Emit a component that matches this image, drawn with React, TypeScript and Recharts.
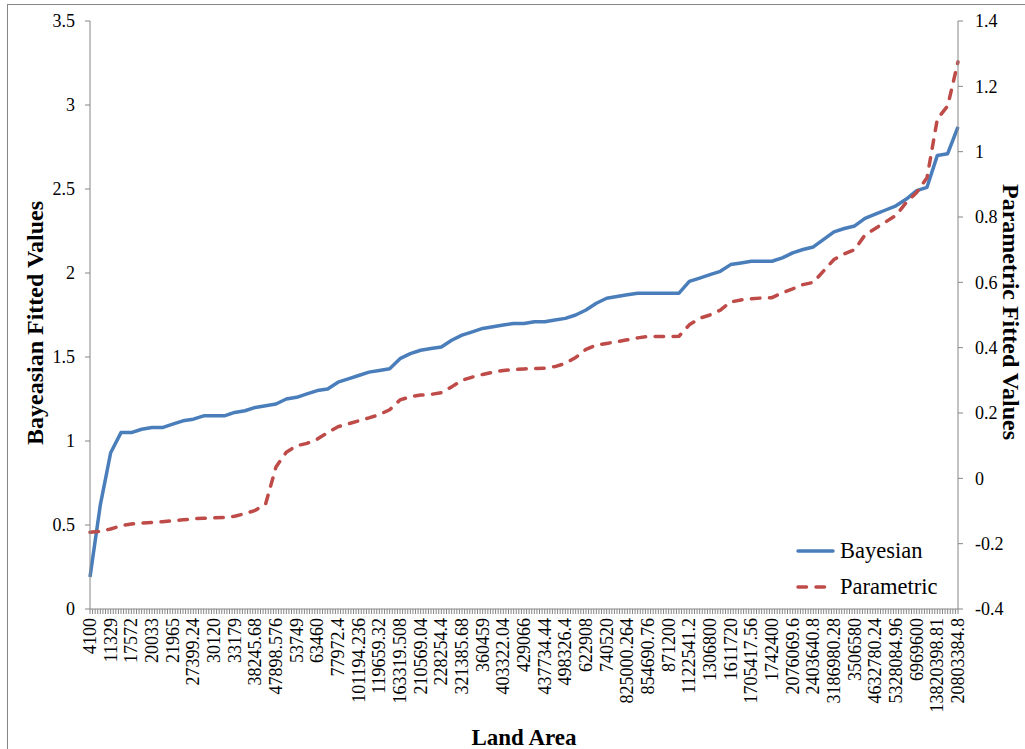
import React from 'react';
import { LineChart, Line, XAxis, YAxis, Legend } from 'recharts';

// Land area categories shown on the horizontal axis (one label every two points)
const landAreaLabels = [
  '4100', '11329', '17572', '20033', '21965', '27399.24', '30120', '33179',
  '38245.68', '47898.576', '53749', '63460', '77972.4', '101194.236',
  '119659.32', '163319.508', '210569.04', '228254.4', '321385.68', '360459',
  '403322.04', '429066', '437734.44', '498326.4', '622908', '740520',
  '825000.264', '854690.76', '871200', '1122541.2', '1306800', '1611720',
  '1705417.56', '1742400', '2076069.6', '2403640.8', '3186980.28', '3506580',
  '4632780.24', '5328084.96', '6969600', '13820398.81', '20803384.8',
];
const pointsPerLabel = 2;

// Bayesian fitted values (left axis)
const bayesian = [
  0.19, 0.62, 0.93, 1.05, 1.05, 1.07, 1.08, 1.08, 1.1, 1.12,
  1.13, 1.15, 1.15, 1.15, 1.17, 1.18, 1.2, 1.21, 1.22, 1.25,
  1.26, 1.28, 1.3, 1.31, 1.35, 1.37, 1.39, 1.41, 1.42, 1.43,
  1.49, 1.52, 1.54, 1.55, 1.56, 1.6, 1.63, 1.65, 1.67, 1.68,
  1.69, 1.7, 1.7, 1.71, 1.71, 1.72, 1.73, 1.75, 1.78, 1.82,
  1.85, 1.86, 1.87, 1.88, 1.88, 1.88, 1.88, 1.88, 1.95, 1.97,
  1.99, 2.01, 2.05, 2.06, 2.07, 2.07, 2.07, 2.09, 2.12, 2.14,
  2.155, 2.2, 2.245, 2.265, 2.28, 2.325, 2.35, 2.375, 2.4, 2.44,
  2.49, 2.51, 2.7, 2.71, 2.87,
];

// Parametric fitted values (right axis)
const parametric = [
  -0.165, -0.162, -0.155, -0.145, -0.14, -0.137, -0.135, -0.133, -0.13, -0.127,
  -0.124, -0.122, -0.121, -0.12, -0.116, -0.108, -0.098, -0.078, 0.035, 0.08,
  0.1, 0.107, 0.12, 0.14, 0.158, 0.167, 0.176, 0.185, 0.195, 0.21,
  0.24, 0.25, 0.255, 0.257, 0.262, 0.28, 0.3, 0.31, 0.318, 0.325,
  0.33, 0.333, 0.335, 0.336, 0.337, 0.342, 0.352, 0.37, 0.395, 0.408,
  0.413, 0.418, 0.424, 0.43, 0.434, 0.434, 0.434, 0.435, 0.47, 0.49,
  0.5, 0.515, 0.54, 0.546, 0.55, 0.552, 0.553, 0.568, 0.58, 0.593,
  0.6, 0.635, 0.67, 0.687, 0.7, 0.745, 0.765, 0.785, 0.805, 0.845,
  0.875, 0.92, 1.1, 1.14, 1.275,
];

const leftTicks = [0, 0.5, 1, 1.5, 2, 2.5, 3, 3.5];
const rightTicks = [-0.4, -0.2, 0, 0.2, 0.4, 0.6, 0.8, 1, 1.2, 1.4];

// minor tick marks along the category axis (4 per data point)
const minorPerPoint = 4;
const lastIndex = bayesian.length - 1;
const xTicks = Array.from({ length: lastIndex * minorPerPoint + 1 }, (_, k) => k / minorPerPoint);

const data = bayesian.map((b, i) => ({ idx: i, bayesian: b, parametric: parametric[i] }));

const FONT = '"Liberation Serif", "Times New Roman", serif';
const BLUE = '#4A7EBB';
const RED = '#BE4B48';
const AXIS = '#868686';

const XTick = (props: any) => {
  const { x, y, payload } = props;
  const k = Math.round(payload.value * minorPerPoint);
  const step = minorPerPoint * pointsPerLabel;
  if (k % step !== 0) return <g />;
  const label = landAreaLabels[k / step];
  return (
    <text
      x={x}
      y={y}
      transform={`rotate(-90 ${x} ${y})`}
      textAnchor="end"
      dominantBaseline="central"
      fontFamily={FONT}
      fontSize={18}
      fill="#000"
    >
      {label}
    </text>
  );
};

const legendItems = [
  { name: 'Bayesian', color: BLUE, dash: undefined },
  { name: 'Parametric', color: RED, dash: '8.5 9.5' },
];

const renderLegend = () => (
  <div style={{ fontFamily: FONT, fontSize: 22.5, color: '#000', lineHeight: 1 }}>
    {legendItems.map((s) => (
      <div key={s.name} style={{ display: 'flex', alignItems: 'center', height: 36 }}>
        <svg width={44} height={10} style={{ marginRight: 1 }}>
          <line
            x1={3}
            y1={5}
            x2={38}
            y2={5}
            stroke={s.color}
            strokeWidth={3.5}
            strokeDasharray={s.dash}
            strokeLinecap="round"
          />
        </svg>
        <span>{s.name}</span>
      </div>
    ))}
  </div>
);

export default function App() {
  return (
    <div
      style={{
        position: 'absolute',
        left: 0,
        top: 0,
        width: 1025,
        height: 749,
        background: '#fff',
        overflow: 'hidden',
      }}
    >
      <div
        style={{
          position: 'absolute',
          left: 7,
          top: 4,
          width: 1100,
          height: 900,
          border: `1px solid ${AXIS}`,
        }}
      />
      <div style={{ position: 'absolute', left: 0, top: 0 }}>
        <LineChart width={1025} height={749} data={data} margin={{ top: 21, right: 0, bottom: 0, left: 0 }}>
          <XAxis
            dataKey="idx"
            type="number"
            domain={[0, lastIndex]}
            ticks={xTicks}
            interval={0}
            tick={XTick}
            tickSize={5}
            tickMargin={4}
            height={140}
            stroke={AXIS}
            tickLine={{ stroke: AXIS }}
          />
          <YAxis
            yAxisId="left"
            domain={[0, 3.5]}
            ticks={leftTicks}
            interval={0}
            width={90}
            tickSize={5}
            tickMargin={10}
            stroke={AXIS}
            tick={{ fill: '#000', fontSize: 18, fontFamily: FONT }}
          />
          <YAxis
            yAxisId="right"
            orientation="right"
            domain={[-0.4, 1.4]}
            ticks={rightTicks}
            interval={0}
            width={67}
            tickSize={5}
            tickMargin={12}
            stroke={AXIS}
            tick={{ fill: '#000', fontSize: 18, fontFamily: FONT, textAnchor: 'start' }}
          />
          <Line
            yAxisId="left"
            dataKey="bayesian"
            name="Bayesian"
            type="linear"
            stroke={BLUE}
            strokeWidth={3.5}
            strokeLinejoin="round"
            dot={false}
            activeDot={false}
            isAnimationActive={false}
          />
          <Line
            yAxisId="right"
            dataKey="parametric"
            name="Parametric"
            type="linear"
            stroke={RED}
            strokeWidth={3.5}
            strokeDasharray="8.5 9.5"
            strokeLinecap="round"
            strokeLinejoin="round"
            dot={false}
            activeDot={false}
            isAnimationActive={false}
          />
          <Legend
            layout="horizontal"
            verticalAlign="middle"
            align="center"
            content={renderLegend}
            wrapperStyle={{ position: 'absolute', left: 795, top: 533, width: 180, bottom: 'auto', right: 'auto' }}
          />
          <text
            x={35}
            y={323}
            transform="rotate(-90 35 323)"
            textAnchor="middle"
            dominantBaseline="central"
            fontFamily={FONT}
            fontWeight="bold"
            fontSize={24}
            fill="#000"
          >
            Bayeasian Fitted Values
          </text>
          <text
            x={1011}
            y={312}
            transform="rotate(90 1011 312)"
            textAnchor="middle"
            dominantBaseline="central"
            fontFamily={FONT}
            fontWeight="bold"
            fontSize={24}
            fill="#000"
          >
            Parametric Fitted Values
          </text>
          <text
            x={524}
            y={737}
            textAnchor="middle"
            dominantBaseline="central"
            fontFamily={FONT}
            fontWeight="bold"
            fontSize={23}
            fill="#000"
          >
            Land Area
          </text>
        </LineChart>
      </div>
    </div>
  );
}
